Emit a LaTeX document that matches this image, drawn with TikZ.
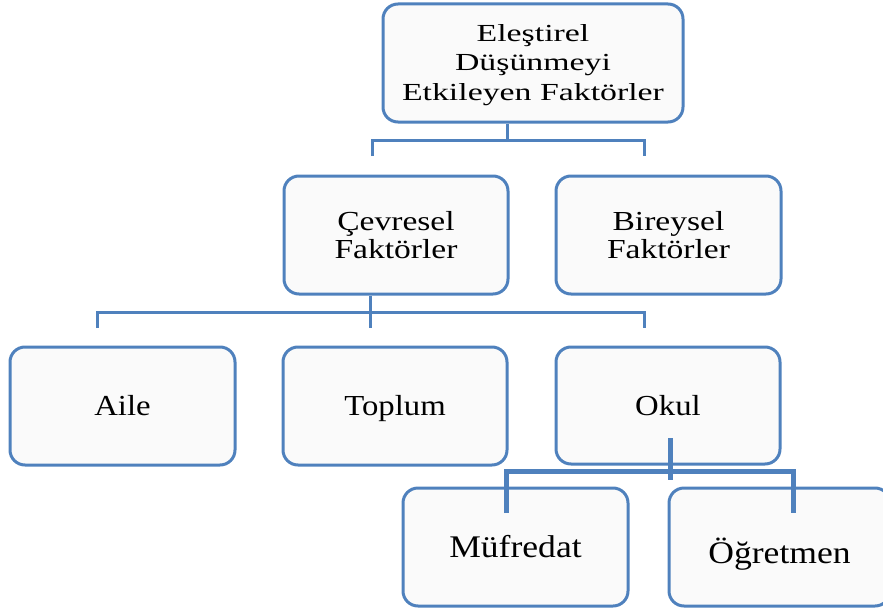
\documentclass[tikz,border=0pt]{standalone}
\usepackage{fontspec}
\setmainfont{Liberation Serif}
\newfontfamily\fa{Liberation Serif}[FakeStretch=1.38]
\newfontfamily\fb{Liberation Serif}[FakeStretch=1.22]
\newfontfamily\fc{Liberation Serif}[FakeStretch=1.13]
\definecolor{bordo}{HTML}{4F81BD}
\definecolor{boxfill}{HTML}{FAFAFA}
\tikzset{
  box/.style={draw=bordo, line width=3pt, fill=boxfill, rounded corners=15pt,
    align=center, text=black, inner sep=0pt},
  conn/.style={draw=bordo, line width=3pt},
  connthick/.style={draw=bordo, line width=5pt},
  ftop/.style={font={\fa\fontsize{24.5}{29.5}\selectfont}},
  fmid/.style={font={\fb\fontsize{27.5}{28.5}\selectfont}},
  frow/.style={font={\fc\fontsize{29}{31}\selectfont}, text height=19.2pt, text depth=0pt},
  flow/.style={font={\fc\fontsize{31.5}{33}\selectfont}, text height=21pt, text depth=0pt},
}
\begin{document}
\begin{tikzpicture}[x=1pt,y=-1pt]
\useasboundingbox (0,0) rectangle (883,610);
% boxes
\node[box, minimum width=300pt, minimum height=118pt] (top) at (533,63) {};
\node[ftop, align=center, inner sep=0pt] (toptext) at (top.center) [yshift=-2pt]
  {Eleştirel\\Düşünmeyi\\Etkileyen Faktörler};
\node[box, fmid, minimum width=224pt, minimum height=118pt] (cev) at (396,235)
  {Çevresel\\Faktörler};
\node[box, fmid, minimum width=225pt, minimum height=118pt] (bir) at (668.5,235)
  {Bireysel\\Faktörler};
\node[box, frow, minimum width=225pt, minimum height=118pt] (aile) at (122.5,406) {Aile};
\node[box, frow, minimum width=224pt, minimum height=118pt] (toplum) at (395,406) {Toplum};
\node[box, frow, minimum width=224pt, minimum height=117pt] (okul) at (668,405.5) {Okul};
\node[box, flow, minimum width=225pt, minimum height=118pt] (muf) at (515.5,547) {Müfredat};
\node[box, flow, minimum width=221pt, minimum height=118pt] (ogr) at (779.5,547)
  {\raisebox{-6pt}{Öğretmen}};
% connectors level 1
\coordinate (j1) at (507,140);
\coordinate (d1) at (372,156);
\coordinate (d2) at (644,156);
\draw[conn] (top.south -| j1) -- (j1);
\draw[conn] (d1) |- (j1) -| (d2);
% connectors level 2
\coordinate (j2) at (370,312);
\coordinate (e1) at (97,328);
\coordinate (e2) at (370,328);
\coordinate (e3) at (644,328);
\draw[conn] (cev.south -| j2) -- (e2);
\draw[conn] (e1) |- (j2) -| (e3);
% connectors level 3
\coordinate (o0) at (670,438);
\coordinate (j3) at (670,471);
\coordinate (f0) at (670,480);
\coordinate (g1) at (506,513);
\coordinate (g2) at (793,513);
\draw[connthick] (o0) -- (f0);
\draw[connthick] (g1) |- (j3) -| (g2);
\end{tikzpicture}
\end{document}
